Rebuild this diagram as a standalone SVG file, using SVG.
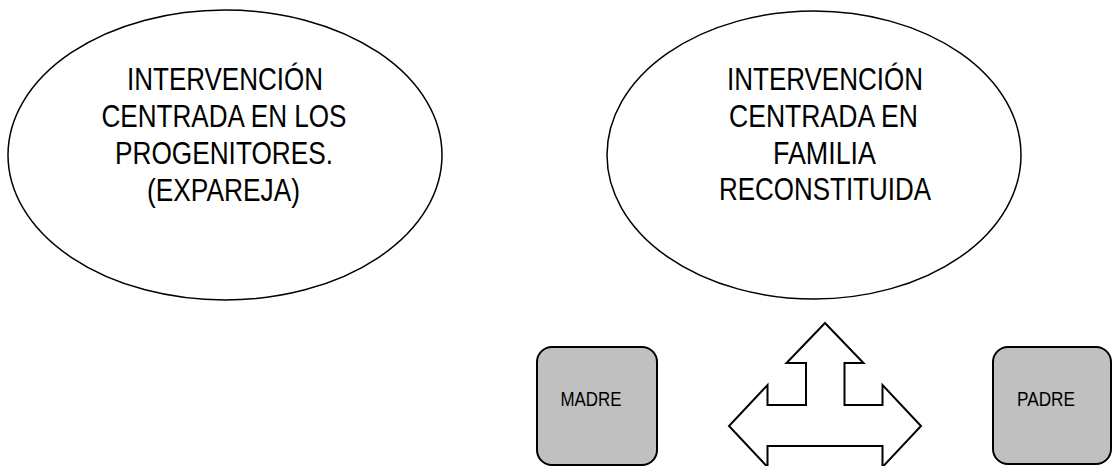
<svg xmlns="http://www.w3.org/2000/svg" width="1112" height="466" viewBox="0 0 1112 466">
<style>
.ell{fill:#fff;stroke:#000;stroke-width:1.5}
.big{font-family:"Liberation Sans",Arial,sans-serif;font-size:31px;fill:#000;text-anchor:middle}
.box{fill:#c0c0c0;stroke:#000;stroke-width:2}
.sm{font-family:"Liberation Sans",Arial,sans-serif;font-size:20.5px;fill:#000;text-anchor:middle}
.arr{fill:#fff;stroke:#000;stroke-width:2;stroke-linejoin:miter}
</style>
<rect width="1112" height="466" fill="#fff"/>
<g id="progenitores">
<ellipse class="ell" cx="225" cy="155" rx="217" ry="145"/>
<text class="big" x="225" y="90" textLength="196" lengthAdjust="spacingAndGlyphs">INTERVENCIÓN</text>
<text class="big" x="224" y="127" textLength="245" lengthAdjust="spacingAndGlyphs">CENTRADA EN LOS</text>
<text class="big" x="224" y="164" textLength="218" lengthAdjust="spacingAndGlyphs">PROGENITORES.</text>
<text class="big" x="223.5" y="200.5" textLength="153" lengthAdjust="spacingAndGlyphs">(EXPAREJA)</text>
</g>
<g id="reconstituida">
<ellipse class="ell" cx="814" cy="155" rx="207" ry="144"/>
<text class="big" x="825" y="90" textLength="196" lengthAdjust="spacingAndGlyphs">INTERVENCIÓN</text>
<text class="big" x="823.5" y="127" textLength="189" lengthAdjust="spacingAndGlyphs">CENTRADA EN</text>
<text class="big" x="824.5" y="163.5" textLength="103" lengthAdjust="spacingAndGlyphs">FAMILIA</text>
<text class="big" x="825" y="200" textLength="212" lengthAdjust="spacingAndGlyphs">RECONSTITUIDA</text>
</g>
<g id="madre">
<rect class="box" x="537" y="347" width="120" height="118" rx="15" ry="15"/>
<text class="sm" x="591" y="406" textLength="61" lengthAdjust="spacingAndGlyphs">MADRE</text>
</g>
<g id="padre">
<rect class="box" x="993" y="347" width="118" height="117" rx="15" ry="15"/>
<text class="sm" x="1046" y="406" textLength="58" lengthAdjust="spacingAndGlyphs">PADRE</text>
</g>
<g id="flecha">
<polygon class="arr" points="825,323 863.5,363 844.5,363 844.5,405 882.5,405 882.5,385 921,426 882.5,467 882.5,446 767.5,446 767.5,467 729,426 767.5,385 767.5,405 806,405 806,363 786.5,363"/>
</g>
<g id="connectors"></g>
</svg>
